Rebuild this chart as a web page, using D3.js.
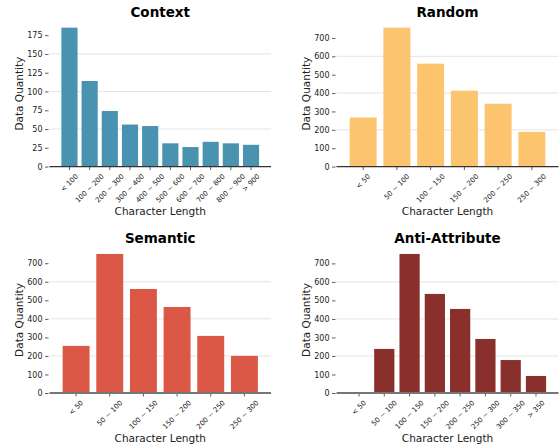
<!DOCTYPE html>
<html>
<head>
<meta charset="utf-8">
<script src="https://cdn.jsdelivr.net/npm/d3@7"></script>
<style>
  body { margin: 0; background: #fff; }
  svg { font-family: "DejaVu Sans", sans-serif; }
</style>
</head>
<body>
<svg id="chart" width="560" height="448"></svg>
<script>
// data
const contextLabels = ['< 100', '100 ~ 200', '200 ~ 300', '300 ~ 400', '400 ~ 500', '500 ~ 600', '600 ~ 700', '700 ~ 800', '800 ~ 900', '> 900'];
const contextValues = [185, 114, 74, 56, 54, 31, 26, 33, 31, 29];
const contextTicks = [0, 25, 50, 75, 100, 125, 150, 175];

const randomLabels = ['< 50', '50 ~ 100', '100 ~ 150', '150 ~ 200', '200 ~ 250', '250 ~ 300'];
const randomValues = [267, 756, 560, 413, 342, 189];

const semanticLabels = ['< 50', '50 ~ 100', '100 ~ 150', '150 ~ 200', '200 ~ 250', '250 ~ 300'];
const semanticValues = [254, 750, 561, 464, 308, 200];

const antiLabels = ['< 50', '50 ~ 100', '100 ~ 150', '150 ~ 200', '200 ~ 250', '250 ~ 300', '300 ~ 350', '> 350'];
const antiValues = [2, 238, 751, 535, 454, 292, 178, 92];

const hundredTicks = [0, 100, 200, 300, 400, 500, 600, 700];

const panels = [
    { title: 'Context', labels: contextLabels, values: contextValues, ticks: contextTicks, color: '#4993b0',
      x0: 49.5, x1: 271, top: 20.7, bottom: 166.6, axisColor: '#333', axisWidth: 1.2 },
    { title: 'Random', labels: randomLabels, values: randomValues, ticks: hundredTicks, color: '#fdc470',
      x0: 336.5, x1: 558.5, top: 20.7, bottom: 166.6, axisColor: '#333', axisWidth: 1.2 },
    { title: 'Semantic', labels: semanticLabels, values: semanticValues, ticks: hundredTicks, color: '#dc5846',
      x0: 49.5, x1: 271, top: 247, bottom: 393, axisColor: '#777', axisWidth: 1.8 },
    { title: 'Anti-Attribute', labels: antiLabels, values: antiValues, ticks: hundredTicks, color: '#8a302c',
      x0: 336.5, x1: 558.5, top: 247, bottom: 393, axisColor: '#777', axisWidth: 1.8 }
];

const svg = d3.select('#chart');

panels.forEach(p => drawPanel(p));

function drawPanel(p) {
    const n = p.labels.length;
    // matplotlib-like: bar width 0.8 of step, 5% margin on data range
    const outer = 0.05 * (n - 1 + 0.8) + 0.1;
    const x = d3.scaleBand()
        .domain(p.labels)
        .range([p.x0, p.x1])
        .paddingInner(0.2)
        .paddingOuter(outer);

    const y = d3.scaleLinear()
        .domain([0, d3.max(p.values) * 1.05])
        .range([p.bottom, p.top]);

    const g = svg.append('g');

    // light grid on every other tick
    g.append('g')
        .selectAll('line')
        .data(p.ticks.filter((t, i) => i > 0 && i % 2 === 0))
        .enter()
        .append('line')
        .attr('x1', p.x0)
        .attr('x2', p.x1)
        .attr('y1', d => y(d))
        .attr('y2', d => y(d))
        .attr('stroke', '#e4e4e4')
        .attr('stroke-width', 1);

    g.append('g')
        .selectAll('rect')
        .data(p.values)
        .enter()
        .append('rect')
        .attr('x', (d, i) => x(p.labels[i]))
        .attr('y', d => y(d))
        .attr('width', x.bandwidth())
        .attr('height', d => p.bottom - y(d))
        .attr('fill', p.color);

    // y axis: ticks only, no spine
    const yAxis = g.append('g')
        .attr('transform', `translate(${p.x0 - 1},0)`)
        .call(d3.axisLeft(y).tickValues(p.ticks).tickSize(3.5).tickPadding(2.5));
    yAxis.select('.domain').remove();
    yAxis.selectAll('line').attr('stroke', '#333').attr('stroke-width', 0.8);
    yAxis.selectAll('text')
        .attr('fill', '#222')
        .style('font-size', '8px')
        .style('font-family', '"DejaVu Sans", sans-serif');

    // x axis
    const xAxis = g.append('g')
        .attr('transform', `translate(0,${p.bottom})`)
        .call(d3.axisBottom(x).tickSize(3.5).tickSizeOuter(0).tickFormat(''));
    xAxis.select('.domain').remove();
    xAxis.selectAll('line').attr('stroke', '#333').attr('stroke-width', 0.8);

    g.append('line')
        .attr('x1', p.x0)
        .attr('x2', p.x1)
        .attr('y1', p.bottom)
        .attr('y2', p.bottom)
        .attr('stroke', p.axisColor)
        .attr('stroke-width', p.axisWidth);

    // rotated tick labels, centred on the tick like matplotlib's rotation=45
    const fs = 7;
    g.append('g')
        .selectAll('text')
        .data(p.labels)
        .enter()
        .append('text')
        .attr('text-anchor', 'middle')
        .attr('dy', '0.32em')
        .attr('fill', '#222')
        .style('font-size', fs + 'px')
        .text(d => d)
        .each(function(d) {
            const len = this.getComputedTextLength();
            const half = (len + fs * 0.9) * 0.7071 / 2;
            const cx = x(d) + x.bandwidth() / 2;
            const cy = p.bottom + 6.5 + half;
            d3.select(this).attr('transform', `translate(${cx},${cy}) rotate(-45)`);
        });

    const cxMid = (p.x0 + p.x1) / 2;
    const cyMid = (p.top + p.bottom) / 2;

    g.append('text')
        .attr('x', cxMid)
        .attr('y', p.top - 3.8)
        .attr('text-anchor', 'middle')
        .style('font-size', '13.5px')
        .style('font-weight', 'bold')
        .attr('fill', '#000')
        .text(p.title);

    g.append('text')
        .attr('x', cxMid)
        .attr('y', p.bottom + 48.5)
        .attr('text-anchor', 'middle')
        .style('font-size', '10.5px')
        .attr('fill', '#222')
        .text('Character Length');

    g.append('text')
        .attr('transform', `translate(${p.x0 - 27},${cyMid}) rotate(-90)`)
        .attr('text-anchor', 'middle')
        .style('font-size', '10.5px')
        .attr('fill', '#222')
        .text('Data Quantity');
}
</script>
</body>
</html>
